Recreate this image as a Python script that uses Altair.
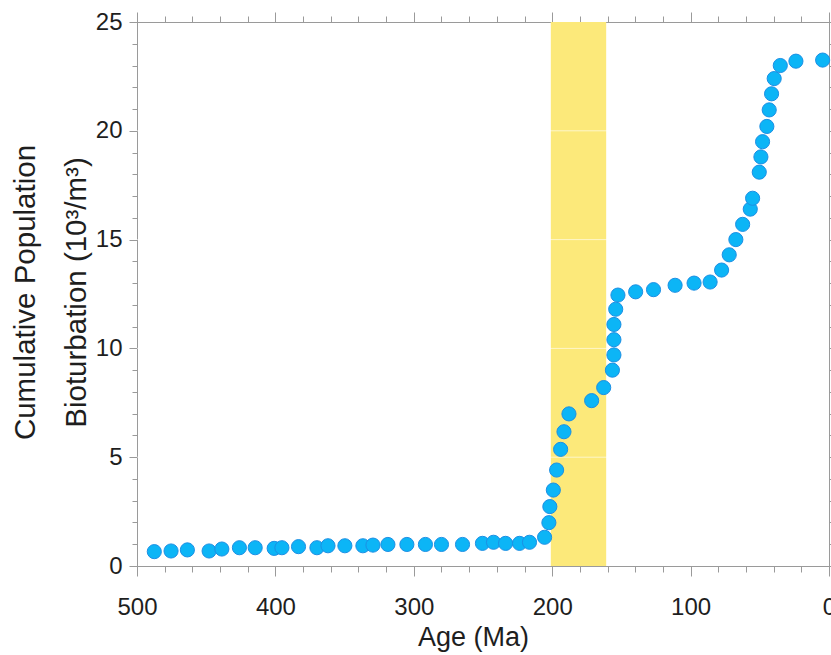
import altair as alt
import pandas as pd

# Cumulative population bioturbation through the Phanerozoic (age in Ma)
age_ma = [487.5, 475.4, 463.6, 447.9, 438.7, 426.0, 414.6, 400.9, 395.3, 383.3,
          370.0, 362.0, 349.8, 336.8, 329.5, 318.7, 305.0, 291.6, 280.0, 264.8,
          250.4, 242.4, 233.7, 223.6, 216.4, 205.5, 202.4, 201.7, 199.2, 196.8,
          193.9, 191.5, 187.9, 171.5, 162.8, 156.5, 155.4, 155.4, 155.4, 154.1,
          152.5, 139.7, 126.8, 111.2, 97.5, 85.9, 77.6, 72.1, 67.3, 62.4,
          56.9, 55.2, 50.4, 49.2, 48.0, 44.9, 43.2, 41.5, 39.6, 35.2,
          23.9, 4.6]
bioturbation = [0.66, 0.69, 0.74, 0.69, 0.78, 0.84, 0.84, 0.81, 0.84, 0.89,
                0.84, 0.93, 0.93, 0.93, 0.96, 0.99, 0.99, 0.99, 0.99, 0.99,
                1.04, 1.09, 1.04, 1.04, 1.09, 1.32, 1.99, 2.73, 3.49, 4.41,
                5.36, 6.17, 6.99, 7.60, 8.20, 9.00, 9.70, 10.40, 11.10, 11.80,
                12.45, 12.60, 12.70, 12.90, 13.00, 13.05, 13.60, 14.30, 15.00, 15.70,
                16.40, 16.90, 18.10, 18.80, 19.50, 20.20, 20.96, 21.70, 22.40, 23.00,
                23.20, 23.25]

# Highlighted interval (Ma)
band_start = [201]
band_end = [161]

# Axis ticks
x_ticks = list(range(0, 501, 20))
y_ticks = list(range(0, 26, 1))
y_grid = [5, 10, 15, 20]

X_DOMAIN = [500, 0]
Y_DOMAIN = [0, 25]
FONT = "Liberation Sans, Arial, sans-serif"
AX_GRAY = "#9a9a9a"
TEXT = "#1e1e1e"

points = pd.DataFrame({"age": age_ma, "value": bioturbation})
band = pd.DataFrame({"start": band_start, "end": band_end, "lo": [0], "hi": [25]})
grid = pd.DataFrame({"g": y_grid})

xs = alt.Scale(domain=X_DOMAIN, nice=False, zero=False)
ys = alt.Scale(domain=Y_DOMAIN, nice=False, zero=False)

major_x = "datum.value % 100 === 0"
major_y = "datum.value % 5 === 0"

common = dict(grid=False, domainColor=AX_GRAY, tickColor=AX_GRAY,
              domainWidth=1, tickWidth=1, labelOverlap=False, labelFlush=False)

x_bottom = alt.Axis(
    orient="bottom", values=x_ticks, title="Age (Ma)",
    labelExpr=f"{major_x} ? datum.label : ''",
    tickSize={"condition": {"test": major_x, "value": 10}, "value": 6},
    labelFont=FONT, labelFontSize=24, labelColor=TEXT, labelPadding=19,
    titleFont=FONT, titleFontSize=27, titleFontWeight="normal",
    titleColor=TEXT, titleX=336, titleY=71, titleBaseline="middle",
    titleAlign="center", **common)
y_left = alt.Axis(
    orient="left", values=y_ticks,
    title=["Cumulative Population", "Bioturbation (10\u00b3/m\u00b3)"],
    labelExpr=f"{major_y} ? datum.label : ''",
    tickSize={"condition": {"test": major_y, "value": 8}, "value": 5},
    labelFont=FONT, labelFontSize=24, labelColor=TEXT, labelPadding=7,
    titleFont=FONT, titleFontSize=29.5, titleFontWeight="normal",
    titleColor=TEXT, titleAngle=270, titleX=-126, titleY=270,
    titleAlign="center", titleBaseline="top", titleLineHeight=51, **common)
x_top = alt.Axis(
    orient="top", values=x_ticks, labels=False, title=None,
    tickSize={"condition": {"test": major_x, "value": 10}, "value": 6}, **common)
y_right = alt.Axis(
    orient="right", values=y_ticks, labels=False, title=None,
    tickSize={"condition": {"test": major_y, "value": 8}, "value": 5}, **common)

band_layer = alt.Chart(band).mark_rect(color="#fce97a").encode(
    x=alt.X("start:Q", scale=xs, axis=x_bottom),
    x2="end:Q",
    y=alt.Y("lo:Q", scale=ys, axis=y_left),
    y2="hi:Q",
)

grid_layer = alt.Chart(grid).mark_rule(color="white", opacity=0.6, strokeWidth=1).encode(
    y=alt.Y("g:Q", scale=ys, axis=None),
)

point_layer = alt.Chart(points).mark_point(
    shape="circle", filled=True, size=200, fill="#0cb5f6", stroke="#1c8fe4",
    strokeWidth=1, opacity=1
).encode(
    x=alt.X("age:Q", scale=xs, axis=x_top),
    y=alt.Y("value:Q", scale=ys, axis=y_right),
)

chart = alt.layer(band_layer, grid_layer, point_layer).resolve_scale(
    x="independent", y="independent"
).resolve_axis(
    x="independent", y="independent"
).properties(
    width=692, height=544,
    autosize=alt.AutoSizeParams(type="none"),
    padding={"left": 137, "top": 22, "right": 2, "bottom": 89},
    background="white",
).configure_view(stroke=AX_GRAY, strokeWidth=1)

chart.save("out.html", embed_options={"renderer": "svg", "actions": False})
